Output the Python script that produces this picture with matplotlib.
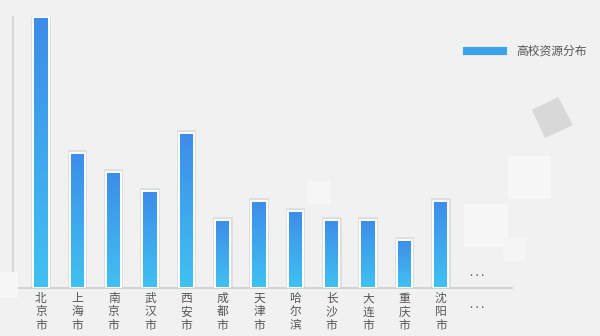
import matplotlib
matplotlib.use("Agg")
import matplotlib.pyplot as plt
import numpy as np
from matplotlib.patches import Rectangle, Polygon
from matplotlib.colors import LinearSegmentedColormap

plt.rcParams['font.family'] = ['Noto Sans CJK SC', 'DejaVu Sans']

categories = ["北京市", "上海市", "南京市", "武汉市", "西安市", "成都市", "天津市",
              "哈尔滨", "长沙市", "大连市", "重庆市", "沈阳市", "..."]
values = [28, 14, 12, 10, 16, 7, 9, 8, 7, 7, 5, 9, None]
series_name = "高校资源分布"

W, H = 600, 336
fig = plt.figure(figsize=(6, 3.36), dpi=100, facecolor="#f1f1f1")

def px(x, y):
    return (x / W, 1 - y / H)

# decorative squares (background)
def sq(x0, y0, x1, y1, color, alpha=1.0):
    fx0, fy1 = px(x0, y0)
    fx1, fy0 = px(x1, y1)
    fig.patches.append(Rectangle((fx0, fy0), fx1 - fx0, fy1 - fy0, transform=fig.transFigure,
                                 facecolor=color, edgecolor="none", alpha=alpha, zorder=0))

sq(508, 156, 551, 199, "#f7f7f7")
sq(464, 204, 508, 247, "#f7f7f7")
sq(503, 238, 526, 261, "#f5f5f5")
sq(307, 181, 330, 204, "#f6f6f6")
sq(0, 272, 18, 298, "#f7f7f7")
pts = [px(558, 97), px(573, 125), px(545, 138), px(532, 110)]
fig.patches.append(Polygon(pts, closed=True, transform=fig.transFigure,
                           facecolor="#d8d8d8", edgecolor="none", zorder=0))

ax = fig.add_axes([13 / W, 48 / H, (512 - 13) / W, (288 - 17) / H])
ax.set_facecolor("none")

top_c = "#3d8de8"
bot_c = "#40c2f2"
cmap = LinearSegmentedColormap.from_list("g", [bot_c, top_c])
grad = np.linspace(0, 1, 256).reshape(-1, 1)

x = np.arange(len(categories))
bw = 0.42
for xi, v in zip(x, values):
    if v is None:
        continue
    # shadow
    ax.add_patch(Rectangle((xi - bw / 2 - 0.06, 0), bw + 0.12, v + 0.3, facecolor="#000000",
                           alpha=0.07, edgecolor="none", zorder=1))
    ax.imshow(grad, extent=[xi - bw / 2, xi + bw / 2, 0, v], origin="lower",
              cmap=cmap, aspect="auto", zorder=2, interpolation="bilinear")
    ax.add_patch(Rectangle((xi - bw / 2, 0), bw, v, facecolor="none", edgecolor="white",
                           linewidth=1.4, zorder=3))

ax.text(12, 1.5, ". . .", ha="center", va="center", fontsize=8, color="#555555")

ax.set_xlim(-0.77, 12.96)
ax.set_ylim(0, 28.0)
ax.set_xticks(x)
ax.set_xticklabels(["\n".join(list(c)) if c != "..." else "" for c in categories],
                   fontsize=8.5, color="#555555", linespacing=1.02)
ax.annotate(". . .", xy=(12, 0), xytext=(0, -14.4), textcoords="offset points",
            ha="center", va="baseline", fontsize=8, color="#555555", annotation_clip=False)
ax.tick_params(axis="x", length=0, pad=3)
ax.set_yticks([])
for s in ["top", "right"]:
    ax.spines[s].set_visible(False)
ax.spines["left"].set_color("#d9d9d9")
ax.spines["left"].set_linewidth(1.5)
ax.spines["bottom"].set_color("#cccccc")
ax.spines["bottom"].set_linewidth(1.2)

# legend
lx0, ly0 = px(462, 56)
lx1, ly1 = px(508, 46)
lax = fig.add_axes([lx0, ly0, lx1 - lx0, ly1 - ly0])
lax.imshow(np.full((1, 2), 0.6), cmap=cmap, vmin=0, vmax=1,
           aspect="auto", extent=[0, 1, 0, 1])
lax.add_patch(Rectangle((0, 0), 1, 1, facecolor="none", edgecolor="white", linewidth=1.2,
                        transform=lax.transAxes))
lax.set_axis_off()
tx, ty = px(516, 51)
fig.text(tx, ty, series_name, fontsize=8.5, color="#555555", va="center", ha="left")

fig.savefig("out.png", dpi=100, facecolor=fig.get_facecolor())
